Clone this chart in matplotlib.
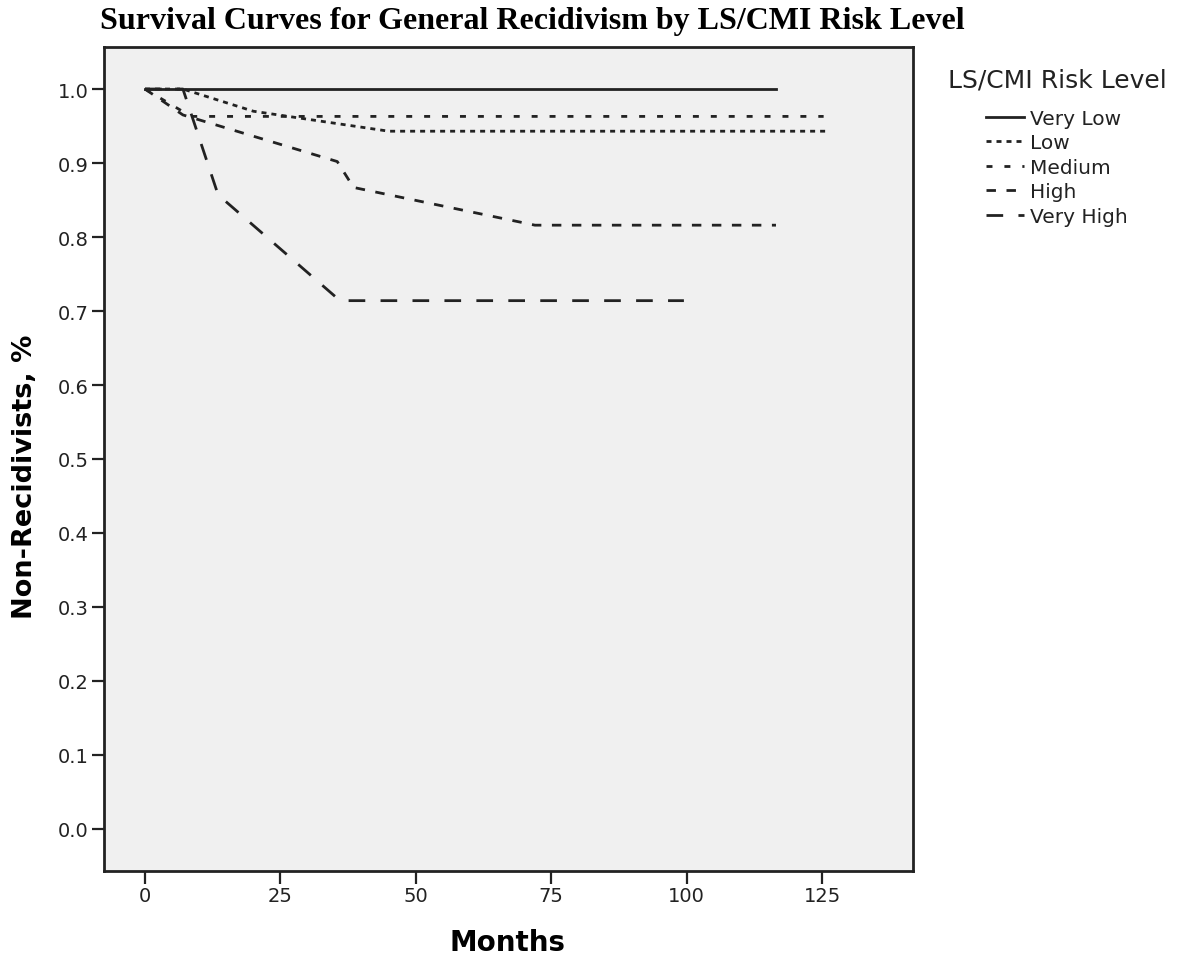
import matplotlib
matplotlib.use("Agg")
import matplotlib.pyplot as plt

plt.rcParams["lines.scale_dashes"] = False

# Kaplan-Meier style survival curves
very_low_months = [0, 116.5]
very_low_surv = [1.0, 1.0]

low_months = [0, 7, 20, 45, 126.2]
low_surv = [1.0, 1.0, 0.970, 0.943, 0.943]

medium_months = [0, 8.5, 125.3]
medium_surv = [1.0, 0.963, 0.963]

high_months = [0, 7, 35.5, 38.5, 72, 116.5]
high_surv = [1.0, 0.965, 0.902, 0.867, 0.816, 0.816]

very_high_months = [0, 7, 13.5, 36, 99.5]
very_high_surv = [1.0, 1.0, 0.857, 0.714, 0.714]

series_labels = ["Very Low", "Low", "Medium", "High", "Very High"]
x_ticks = [0, 25, 50, 75, 100, 125]
y_ticks = [0.0, 0.1, 0.2, 0.3, 0.4, 0.5, 0.6, 0.7, 0.8, 0.9, 1.0]

W, H = 1180, 962
fig = plt.figure(figsize=(W / 100, H / 100), dpi=100)
ax = fig.add_axes([104 / W, 1 - 872 / H, (913 - 104) / W, (872 - 48) / H])
ax.set_facecolor("#f0f0f0")

col = "#222222"
lw = 2.0
ax.plot(very_low_months, very_low_surv, color=col, lw=lw, label=series_labels[0])
ax.plot(low_months, low_surv, color=col, lw=lw, dashes=(3.6, 3.6), label=series_labels[1])
ax.plot(medium_months, medium_surv, color=col, lw=lw, dashes=(4.3, 8.6), label=series_labels[2])
ax.plot(high_months, high_surv, color=col, lw=lw, dashes=(6.8, 7.6), label=series_labels[3])
ax.plot(very_high_months, very_high_surv, color=col, lw=lw, dashes=(12, 11), label=series_labels[4])

ax.set_xlim(-7.57, 141.8)
ax.set_ylim(-0.0568, 1.0568)
ax.set_xticks(x_ticks)
ax.set_yticks(y_ticks)
ax.set_yticklabels([f"{v:.1f}" for v in y_ticks])
ax.tick_params(axis="both", direction="out", length=9, width=1.6, labelsize=14,
               colors="#222222", pad=2)
for sp in ax.spines.values():
    sp.set_linewidth(2.0)
    sp.set_color("#222222")

# axis titles placed where the reference has them
fig.text(508 / W, 1 - 943 / H, "Months", fontsize=20, fontweight="bold",
         ha="center", va="center")
fig.text(25 / W, 1 - 477 / H, "Non-Recidivists, %", fontsize=19.5, fontweight="bold",
         ha="center", va="center", rotation=90)

fig.text(100 / W, 1 - 22 / H, "Survival Curves for General Recidivism by LS/CMI Risk Level",
         family="Liberation Serif", fontweight="bold", fontsize=23, va="center", ha="left")

fig.text(948 / W, 1 - 80 / H, "LS/CMI Risk Level", fontsize=18, va="center", ha="left",
         color="#222222")
leg = ax.legend(loc="upper left", bbox_to_anchor=(986 / W, 1 - 110 / H),
                bbox_transform=fig.transFigure, frameon=False, fontsize=14.5,
                handlelength=1.9, handletextpad=0.3, labelspacing=0.27,
                borderpad=0, borderaxespad=0)
for t in leg.get_texts():
    t.set_color("#222222")

fig.savefig("out.png", dpi=100, facecolor="white")
